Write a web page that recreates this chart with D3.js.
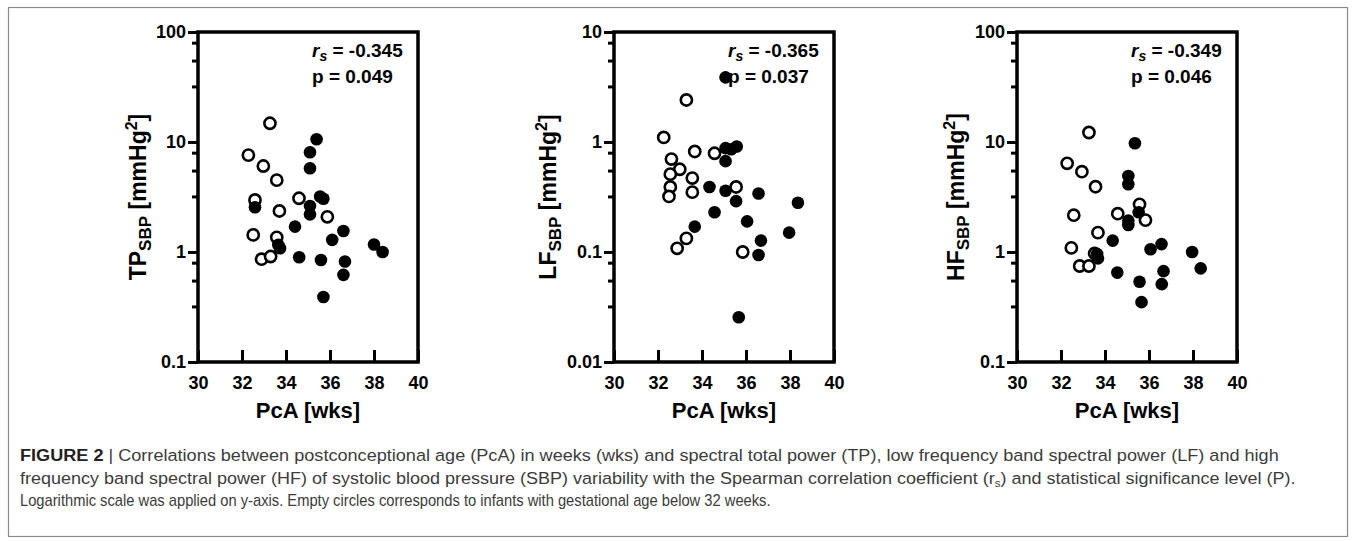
<!DOCTYPE html>
<html>
<head>
<meta charset="utf-8">
<script src="https://cdn.jsdelivr.net/npm/d3@7"></script>
<style>
	body { margin: 0; background: #fff; }
	svg { display: block; }
	text { font-family: "Liberation Sans", Arial, sans-serif; }
</style>
</head>
<body>
<svg id="fig"></svg>
<script>
// x axis is shared by the three panels
const xTicks = [30, 32, 34, 36, 38, 40]
const tpTicks = [0.1, 1, 10, 100]
const lfTicks = [0.01, 0.1, 1, 10]
const hfTicks = [0.1, 1, 10, 100]
// minor ticks inside each decade (as drawn in the original)
const minorSteps = [3.2, 5.5, 8]

// [PcA, value]; open = GA below 32 weeks
const tpOpen = [[33.27, 14.8], [32.29, 7.6], [32.97, 6.05], [33.58, 4.5], [34.59, 3.08], [33.70, 2.36],
	[35.88, 2.09], [32.51, 1.43], [33.58, 1.36], [32.89, 0.86], [33.30, 0.91], [32.59, 2.97]]
const tpFilled = [[35.39, 10.6], [35.09, 8.06], [35.09, 5.77], [35.55, 3.2], [35.70, 3.05], [35.09, 2.62],
	[35.09, 2.20], [34.41, 1.70], [36.61, 1.55], [36.10, 1.29], [33.65, 1.16], [33.73, 1.08], [34.60, 0.895],
	[35.59, 0.846], [36.68, 0.82], [36.61, 0.62], [35.70, 0.39], [38.0, 1.17], [38.39, 1.0], [32.59, 2.55]]

const lfOpen = [[33.29, 2.41], [32.26, 1.10], [33.67, 0.82], [34.57, 0.79], [32.61, 0.70], [32.99, 0.565],
	[32.56, 0.51], [33.56, 0.47], [32.56, 0.39], [35.55, 0.39], [33.56, 0.35], [32.50, 0.32], [33.29, 0.133],
	[32.87, 0.108], [35.85, 0.10]]
const lfFilled = [[35.07, 3.87], [35.07, 0.88], [35.33, 0.86], [35.58, 0.91], [35.07, 0.67], [34.34, 0.39],
	[35.07, 0.36], [36.57, 0.34], [35.55, 0.29], [38.36, 0.28], [34.57, 0.23], [36.05, 0.19], [33.67, 0.17],
	[37.96, 0.15], [36.68, 0.127], [36.57, 0.094], [35.67, 0.0255]]

const hfOpen = [[33.27, 12.2], [32.28, 6.4], [32.95, 5.37], [33.57, 3.92], [35.57, 2.71], [34.58, 2.23],
	[32.58, 2.16], [35.84, 1.95], [33.68, 1.50], [32.47, 1.09], [32.85, 0.746], [33.27, 0.746], [33.53, 0.97]]
const hfFilled = [[35.36, 9.73], [35.06, 4.91], [35.06, 4.13], [35.53, 2.30], [35.06, 1.93], [35.06, 1.76],
	[34.35, 1.27], [36.57, 1.18], [36.07, 1.06], [37.96, 1.0], [33.64, 0.96], [33.68, 0.875], [38.35, 0.71],
	[36.66, 0.67], [34.56, 0.65], [35.57, 0.537], [36.58, 0.51], [35.66, 0.35]]

const panelNames = ['TP', 'LF', 'HF']
const rsValues = ['-0.345', '-0.365', '-0.349']
const pValues = ['0.049', '0.037', '0.046']

const captionLines = [
	'Correlations between postconceptional age (PcA) in weeks (wks) and spectral total power (TP), low frequency band spectral power (LF) and high',
	'frequency band spectral power (HF) of systolic blood pressure (SBP) variability with the Spearman correlation coefficient (r',
	'Logarithmic scale was applied on y-axis. Empty circles corresponds to infants with gestational age below 32 weeks.'
]

const W = 1357
const H = 541
const PLOT = {top: 32, width: 220, height: 330}
const LEFTS = [198, 614, 1017]
const TITLE_OFFSET = [52, 58, 53]

const svg = d3.select('#fig').attr('width', W).attr('height', H)

// outer frame around figure + caption
svg.append('rect')
	.attr('x', 8.5).attr('y', 7.5)
	.attr('width', 1339).attr('height', 529)
	.attr('fill', 'none').attr('stroke', '#8a8a8a').attr('stroke-width', 1.2)

const panels = [
	{ticks: tpTicks, open: tpOpen, filled: tpFilled},
	{ticks: lfTicks, open: lfOpen, filled: lfFilled},
	{ticks: hfTicks, open: hfOpen, filled: hfFilled}
]

panels.forEach((p, i) => {
	const left = LEFTS[i]
	const g = svg.append('g').attr('transform', `translate(${left}, ${PLOT.top})`)

	const x = d3.scaleLinear().domain([30, 40]).range([0, PLOT.width])
	const y = d3.scaleLog().domain([p.ticks[0], p.ticks[p.ticks.length - 1]]).range([PLOT.height, 0])

	const minor = []
	p.ticks.slice(0, -1).forEach(d => minorSteps.forEach(m => minor.push(d * m)))

	// minor ticks (no labels)
	g.append('g')
		.call(d3.axisLeft(y).tickValues(minor).tickSize(6).tickFormat(''))
		.call(a => a.select('.domain').remove())
		.call(a => a.selectAll('line').attr('stroke', '#000').attr('stroke-width', 3))

	// major ticks with labels
	g.append('g')
		.call(d3.axisLeft(y).tickValues(p.ticks).tickSize(10).tickPadding(2).tickFormat(d => String(d)))
		.call(a => a.select('.domain').remove())
		.call(a => a.selectAll('line').attr('stroke', '#000').attr('stroke-width', 3))
		.call(a => a.selectAll('text')
			.attr('font-size', 18).attr('font-weight', 'bold').attr('fill', '#000')
			.attr('font-family', '"Liberation Sans", Arial, sans-serif'))

	// x ticks point inward
	g.append('g')
		.attr('transform', `translate(0, ${PLOT.height})`)
		.call(d3.axisBottom(x).tickValues(xTicks).tickSize(-12).tickPadding(14))
		.call(a => a.select('.domain').remove())
		.call(a => a.selectAll('line').attr('stroke', '#000').attr('stroke-width', 3))
		.call(a => a.selectAll('text')
			.attr('font-size', 18).attr('font-weight', 'bold').attr('fill', '#000')
			.attr('font-family', '"Liberation Sans", Arial, sans-serif'))

	// frame
	g.append('rect')
		.attr('width', PLOT.width).attr('height', PLOT.height)
		.attr('fill', 'none').attr('stroke', '#000').attr('stroke-width', 3.5)

	// points: open circles first, filled on top
	g.append('g').selectAll('circle')
		.data(p.open)
		.join('circle')
		.attr('cx', d => x(d[0])).attr('cy', d => y(d[1]))
		.attr('r', 5.6)
		.attr('fill', '#fff').attr('stroke', '#000').attr('stroke-width', 2.6)

	g.append('g').selectAll('circle')
		.data(p.filled)
		.join('circle')
		.attr('cx', d => x(d[0])).attr('cy', d => y(d[1]))
		.attr('r', 6.3)
		.attr('fill', '#000')

	// stats
	const rs = g.append('text')
		.attr('x', 114).attr('y', 25)
		.attr('font-size', 19).attr('font-weight', 'bold')
	rs.append('tspan').attr('font-style', 'italic').text('r')
	rs.append('tspan').attr('font-style', 'italic').attr('font-size', 14).attr('dy', 4).text('s')
	rs.append('tspan').attr('dy', -4).text(` = ${rsValues[i]}`)

	g.append('text')
		.attr('x', 114).attr('y', 51)
		.attr('font-size', 19).attr('font-weight', 'bold')
		.text(`p = ${pValues[i]}`)

	// axis titles
	g.append('text')
		.attr('x', PLOT.width / 2).attr('y', PLOT.height + 56)
		.attr('text-anchor', 'middle')
		.attr('font-size', 22).attr('font-weight', 'bold')
		.text('PcA [wks]')

	const yt = g.append('text')
		.attr('transform', `translate(${-TITLE_OFFSET[i]}, ${PLOT.height / 2}) rotate(-90)`)
		.attr('text-anchor', 'middle')
		.attr('font-size', 23).attr('font-weight', 'bold')
	yt.append('tspan').text(panelNames[i])
	yt.append('tspan').attr('font-size', 17).attr('dy', 5).text('SBP')
	yt.append('tspan').attr('dy', -5).text(' [mmHg')
	yt.append('tspan').attr('font-size', 16).attr('dy', -9).text('2')
	yt.append('tspan').attr('dy', 9).text(']')
})

// caption, each line condensed to the width it has in the original
const cap = svg.append('g').attr('fill', '#3c3c3c')
const capTargets = [1260, 1276, 751]
const capY = [461, 484, 506]

captionLines.forEach((line, i) => {
	const t = cap.append('text')
		.attr('x', 0).attr('y', 0)
		.attr('font-size', 17)
	if (i === 0) {
		t.append('tspan').attr('font-weight', 'bold').attr('fill', '#222').text('FIGURE 2 ')
		t.append('tspan').text('| ' + line)
	} else if (i === 1) {
		t.append('tspan').text(line)
		t.append('tspan').attr('font-size', 11).attr('dy', 3).text('s')
		t.append('tspan').attr('dy', -3).text(') and statistical significance level (P).')
	} else {
		t.text(line)
	}
	const w = t.node().getComputedTextLength()
	t.attr('transform', `translate(20, ${capY[i]}) scale(${capTargets[i] / w}, 1)`)
})
</script>
</body>
</html>
